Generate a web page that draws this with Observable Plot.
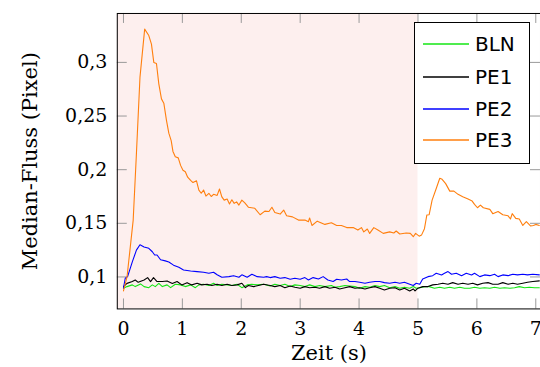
<!DOCTYPE html>
<html>
<head>
<meta charset="utf-8">
<script src="https://cdn.jsdelivr.net/npm/d3@7"></script>
<script src="https://cdn.jsdelivr.net/npm/@observablehq/plot@0.6"></script>
<style>
  html, body { margin: 0; padding: 0; background: white; overflow: hidden; }
  #wrap { position: relative; width: 540px; height: 367px; overflow: hidden; }
  #legend { position: absolute; left: 414px; top: 22px; width: 114px; height: 140px;
            border: 1px solid black; background: white; font-family: "DejaVu Sans", sans-serif; font-size: 20px; }
  .item { position: absolute; left: 0; height: 0; }
  .item svg { position: absolute; left: 8px; top: -2px; }
  .item .lab { position: absolute; left: 60px; top: -13px; line-height: 26px; white-space: nowrap; }
</style>
</head>
<body>
<div id="wrap"></div>
<script>
// ---- data ----
const seriesNames = ["BLN", "PE1", "PE2", "PE3"];
const seriesColors = ["#14e614", "#000000", "#0000ff", "#ff7f0e"];
const stimulus = [-0.105, 5];            // shaded stimulus window (s)
const xTicks = [0, 1, 2, 3, 4, 5, 6, 7];
const yTicks = [0.1, 0.15, 0.2, 0.25, 0.3];

const BLN = [[0,0.0895],[0.06,0.091],[0.15,0.0926],[0.20,0.091],[0.29,0.0935],[0.35,0.091],[0.43,0.090],[0.49,0.0926],[0.54,0.091],[0.60,0.0941],[0.66,0.091],[0.74,0.0926],[0.80,0.090],[0.88,0.0932],[0.97,0.0926],[1.05,0.091],[1.14,0.0926],[1.22,0.090],[1.28,0.0926],[1.36,0.0932],[1.45,0.092],[1.53,0.0941],[1.59,0.092],[1.67,0.0932],[1.76,0.0926],[1.84,0.092],[1.93,0.0932],[2.01,0.090],[2.10,0.0926],[2.18,0.0932],[2.27,0.0926],[2.38,0.0932],[2.49,0.0916],[2.57,0.0932],[2.66,0.092],[2.74,0.0932],[2.83,0.091],[2.91,0.0926],[3.00,0.092],[3.08,0.091],[3.16,0.0926],[3.25,0.091],[3.33,0.092],[3.42,0.091],[3.53,0.092],[3.59,0.0904],[3.67,0.091],[3.76,0.092],[3.84,0.0916],[3.93,0.091],[4.01,0.0895],[4.10,0.091],[4.18,0.0904],[4.27,0.092],[4.35,0.091],[4.43,0.092],[4.52,0.090],[4.61,0.091],[4.69,0.0895],[4.77,0.0904],[4.86,0.0895],[4.92,0.091],[4.97,0.0895],[5.03,0.090],[5.11,0.091],[5.19,0.091],[5.28,0.0895],[5.37,0.0904],[5.45,0.0895],[5.54,0.0904],[5.62,0.0895],[5.71,0.0904],[5.79,0.0895],[5.88,0.0895],[5.96,0.0904],[6.05,0.0895],[6.13,0.090],[6.22,0.0895],[6.30,0.0904],[6.39,0.0895],[6.47,0.090],[6.56,0.0895],[6.64,0.090],[6.72,0.091],[6.81,0.090],[6.89,0.0904],[6.98,0.090],[7.06,0.090]];

const PE1 = [[0,0.091],[0.06,0.094],[0.15,0.0957],[0.20,0.0972],[0.25,0.095],[0.35,0.0972],[0.41,0.0994],[0.46,0.0957],[0.51,0.0994],[0.57,0.0957],[0.66,0.0957],[0.74,0.0963],[0.83,0.094],[0.91,0.0957],[0.99,0.0926],[1.08,0.0947],[1.16,0.0926],[1.25,0.0941],[1.33,0.0926],[1.42,0.0932],[1.50,0.092],[1.59,0.0932],[1.67,0.092],[1.76,0.0932],[1.84,0.092],[1.93,0.0926],[2.01,0.0941],[2.07,0.090],[2.12,0.092],[2.21,0.091],[2.29,0.092],[2.38,0.0932],[2.49,0.092],[2.57,0.091],[2.66,0.092],[2.74,0.090],[2.83,0.0916],[2.91,0.0904],[3.00,0.0895],[3.08,0.091],[3.16,0.090],[3.25,0.0904],[3.33,0.0895],[3.42,0.091],[3.50,0.0895],[3.59,0.0904],[3.67,0.0888],[3.76,0.090],[3.84,0.091],[3.93,0.0895],[4.01,0.090],[4.10,0.0888],[4.18,0.090],[4.27,0.091],[4.35,0.0895],[4.43,0.0879],[4.52,0.0895],[4.61,0.090],[4.69,0.0879],[4.77,0.0895],[4.86,0.087],[4.92,0.0888],[4.95,0.087],[5.00,0.0895],[5.08,0.091],[5.17,0.091],[5.25,0.0926],[5.34,0.0932],[5.42,0.0941],[5.51,0.0932],[5.59,0.0947],[5.68,0.0932],[5.76,0.0941],[5.85,0.0932],[5.93,0.0941],[6.01,0.0926],[6.10,0.0941],[6.19,0.0947],[6.27,0.0932],[6.36,0.0932],[6.44,0.0947],[6.53,0.0932],[6.61,0.0941],[6.69,0.0932],[6.78,0.0941],[6.86,0.095],[6.95,0.0957],[7.06,0.0963]];

const PE2 = [[0,0.0895],[0.03,0.0988],[0.07,0.1003],[0.15,0.114],[0.22,0.125],[0.28,0.130],[0.35,0.128],[0.43,0.1267],[0.49,0.1235],[0.53,0.1205],[0.57,0.1205],[0.63,0.116],[0.71,0.115],[0.77,0.114],[0.85,0.111],[0.94,0.109],[1.02,0.1065],[1.14,0.1056],[1.25,0.105],[1.36,0.1044],[1.45,0.1034],[1.53,0.1044],[1.59,0.102],[1.67,0.0997],[1.79,0.1003],[1.87,0.1012],[1.96,0.0997],[2.01,0.102],[2.10,0.0997],[2.18,0.1025],[2.27,0.1003],[2.38,0.0997],[2.43,0.1003],[2.49,0.0994],[2.57,0.1003],[2.66,0.0988],[2.74,0.0994],[2.83,0.0979],[2.91,0.0988],[3.00,0.0979],[3.08,0.0994],[3.14,0.0972],[3.22,0.0994],[3.31,0.0981],[3.39,0.1003],[3.47,0.0972],[3.56,0.0957],[3.62,0.0979],[3.70,0.0972],[3.79,0.0981],[3.84,0.0957],[3.93,0.0957],[4.01,0.095],[4.10,0.0941],[4.18,0.095],[4.27,0.0957],[4.35,0.0957],[4.43,0.0947],[4.52,0.0941],[4.61,0.095],[4.69,0.0941],[4.77,0.095],[4.86,0.0932],[4.92,0.092],[4.97,0.0941],[5.03,0.0932],[5.08,0.0981],[5.17,0.1003],[5.25,0.1012],[5.31,0.1034],[5.40,0.1019],[5.45,0.1034],[5.51,0.105],[5.57,0.1025],[5.65,0.1034],[5.74,0.1012],[5.82,0.1034],[5.91,0.1019],[5.96,0.1034],[6.05,0.1003],[6.13,0.1019],[6.22,0.1012],[6.30,0.1025],[6.36,0.1003],[6.44,0.1019],[6.53,0.1012],[6.61,0.1025],[6.69,0.1019],[6.78,0.1025],[6.86,0.1019],[6.95,0.1025],[7.06,0.1019]];

const PE3 = [[0,0.087],[0.06,0.100],[0.11,0.125],[0.165,0.153],[0.22,0.215],[0.28,0.286],[0.36,0.331],[0.43,0.325],[0.475,0.317],[0.515,0.300],[0.56,0.299],[0.60,0.280],[0.645,0.266],[0.685,0.262],[0.73,0.246],[0.77,0.234],[0.81,0.227],[0.84,0.217],[0.88,0.212],[0.93,0.211],[0.97,0.204],[1.01,0.1995],[1.05,0.198],[1.09,0.193],[1.14,0.190],[1.18,0.188],[1.24,0.1896],[1.28,0.181],[1.32,0.178],[1.36,0.181],[1.40,0.1754],[1.45,0.178],[1.49,0.175],[1.53,0.177],[1.59,0.176],[1.63,0.182],[1.67,0.1747],[1.71,0.1716],[1.76,0.1726],[1.80,0.168],[1.84,0.172],[1.88,0.1686],[1.92,0.170],[1.96,0.167],[2.01,0.1716],[2.06,0.169],[2.12,0.165],[2.23,0.164],[2.32,0.158],[2.40,0.1614],[2.47,0.161],[2.52,0.165],[2.57,0.160],[2.66,0.1586],[2.72,0.1623],[2.77,0.157],[2.87,0.156],[2.97,0.153],[3.08,0.153],[3.14,0.1515],[3.16,0.155],[3.20,0.148],[3.29,0.152],[3.42,0.149],[3.53,0.1505],[3.62,0.148],[3.70,0.148],[3.79,0.146],[3.90,0.146],[3.98,0.1437],[4.04,0.146],[4.08,0.142],[4.14,0.1447],[4.18,0.1406],[4.25,0.146],[4.32,0.1437],[4.41,0.1406],[4.52,0.142],[4.59,0.141],[4.63,0.1428],[4.69,0.140],[4.80,0.141],[4.87,0.1406],[4.92,0.1375],[4.96,0.1406],[5.02,0.138],[5.06,0.139],[5.11,0.145],[5.15,0.1577],[5.19,0.158],[5.24,0.1716],[5.31,0.1825],[5.37,0.192],[5.41,0.191],[5.47,0.187],[5.54,0.180],[5.61,0.180],[5.68,0.177],[5.76,0.1747],[5.85,0.1726],[5.92,0.1707],[5.96,0.1676],[6.01,0.1645],[6.06,0.167],[6.11,0.1645],[6.22,0.163],[6.27,0.159],[6.36,0.161],[6.44,0.158],[6.53,0.157],[6.57,0.154],[6.60,0.159],[6.66,0.1546],[6.72,0.154],[6.78,0.148],[6.84,0.1515],[6.91,0.1475],[6.96,0.148],[7.00,0.149],[7.06,0.148]];

const seriesData = [BLN, PE1, PE2, PE3];

// ---- chart ----
const W = 541, H = 367, mL = 117, mR = 0, mT = 13, mB = 58;
const plotH = H - mT - mB, plotW = W - mL - mR;
const tickLen = 10;

const lineMarks = seriesData.map((s, i) =>
  Plot.line(s, {x: d => d[0], y: d => d[1], stroke: seriesColors[i], strokeWidth: 1.1})
);

const chart = Plot.plot({
  width: W, height: H,
  marginLeft: mL, marginRight: mR, marginTop: mT, marginBottom: mB,
  x: {domain: [stimulus[0], 7.08]},
  y: {domain: [0.0702, 0.3456]},
  style: {fontFamily: "'DejaVu Serif', serif", fontSize: "19px", color: "black", background: "white", overflow: "visible"},
  marks: [
    Plot.rect([stimulus], {x1: d => d[0], x2: d => d[1], fill: "#fdefee"}),
    Plot.ruleX(xTicks, {x: d => d, insetTop: plotH - tickLen, stroke: "#9a9a9a"}),
    Plot.ruleX(xTicks, {x: d => d, insetBottom: plotH - tickLen, stroke: "#9a9a9a"}),
    Plot.ruleY(yTicks, {y: d => d, insetRight: plotW - tickLen, stroke: "#9a9a9a"}),
    Plot.ruleY(yTicks, {y: d => d, insetLeft: plotW - tickLen, stroke: "#9a9a9a"}),
    ...lineMarks,
    Plot.axisX(xTicks, {tickSize: 0, tickPadding: 13, tickFormat: d => String(d), label: null, fontSize: 19}),
    Plot.axisY(yTicks, {tickSize: 0, tickPadding: 10, tickFormat: d => String(d).replace(".", ","), label: null, fontSize: 19}),
    Plot.frame({stroke: "black", strokeWidth: 1}),
    Plot.text(["Zeit (s)"], {text: d => d, frameAnchor: "bottom", lineAnchor: "middle", textAnchor: "middle", dy: 44, fontSize: 21}),
    Plot.text(["Median-Fluss (Pixel)"], {text: d => d, frameAnchor: "left", textAnchor: "middle", lineAnchor: "middle", dx: -87, rotate: -90, fontSize: 21})
  ]
});

const wrap = document.getElementById("wrap");
wrap.appendChild(chart);

// ---- legend ----
const legend = document.createElement("div");
legend.id = "legend";
const itemY = [21, 53.5, 86, 117];
seriesNames.forEach((name, i) => {
  const it = document.createElement("div");
  it.className = "item";
  it.style.top = itemY[i] + "px";
  const NS = "http://www.w3.org/2000/svg";
  const sv = document.createElementNS(NS, "svg");
  sv.setAttribute("width", 46); sv.setAttribute("height", 4);
  const ln = document.createElementNS(NS, "line");
  ln.setAttribute("x1", 0); ln.setAttribute("x2", 46);
  ln.setAttribute("y1", 2); ln.setAttribute("y2", 2);
  ln.setAttribute("stroke", seriesColors[i]); ln.setAttribute("stroke-width", 1.3);
  sv.appendChild(ln);
  const lab = document.createElement("div");
  lab.className = "lab";
  lab.textContent = name;
  it.appendChild(sv); it.appendChild(lab);
  legend.appendChild(it);
});
wrap.appendChild(legend);
</script>
</body>
</html>
